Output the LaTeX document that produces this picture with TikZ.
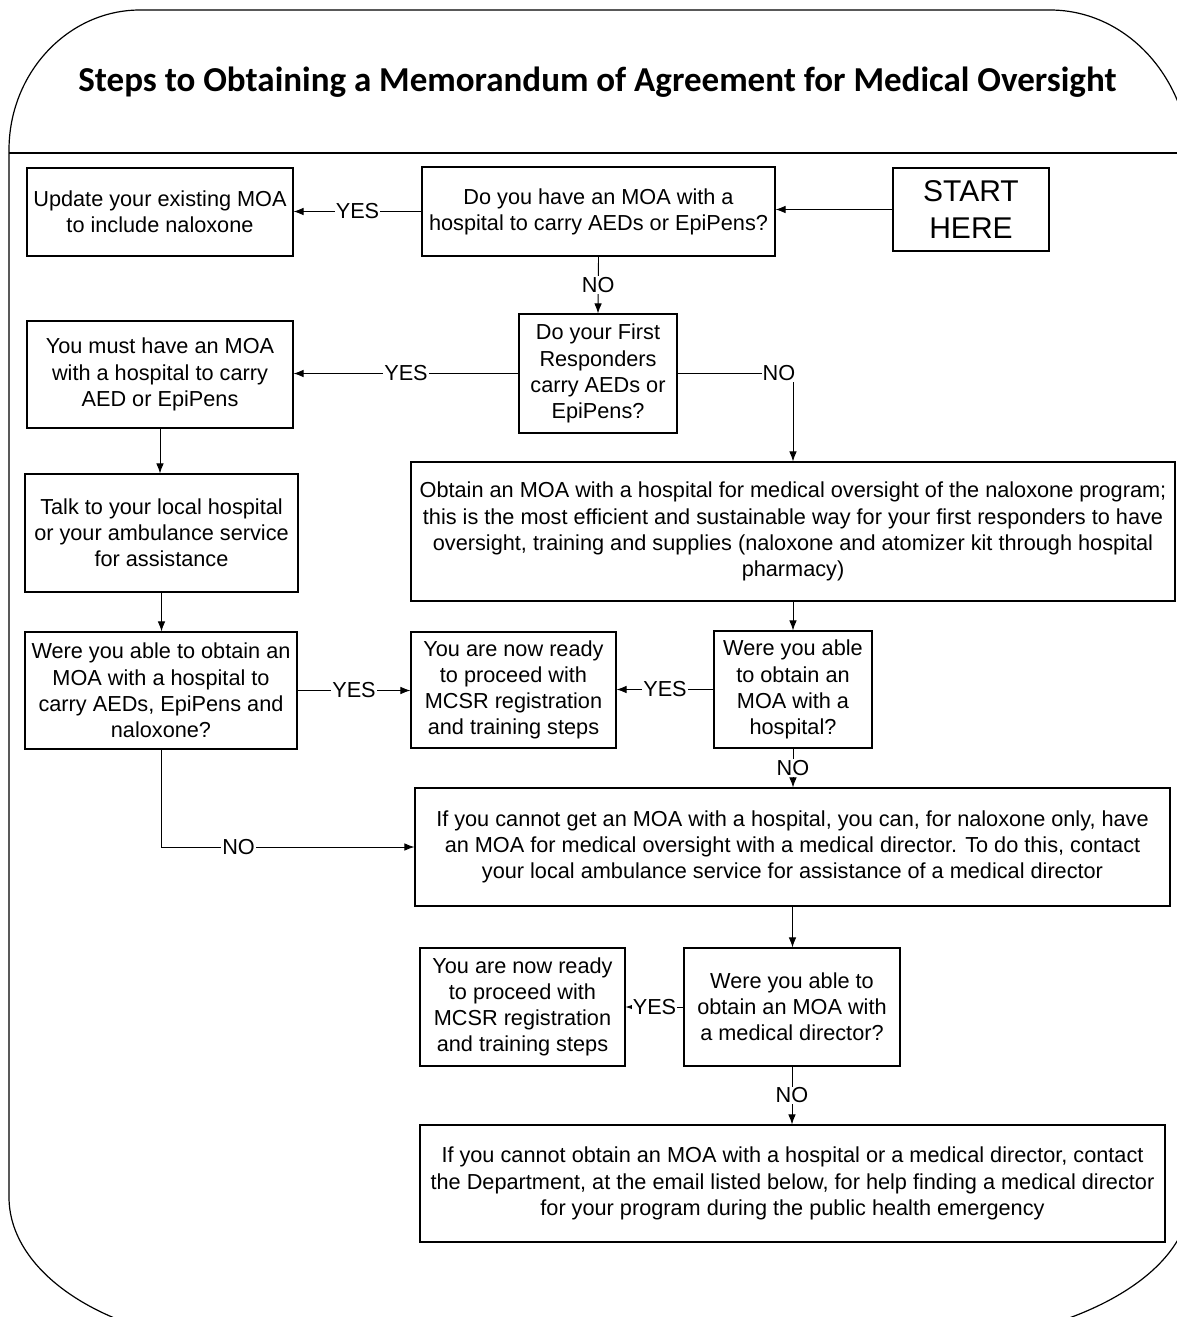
\documentclass[tikz,border=0pt]{standalone}
\usepackage{fontspec}
\setmainfont{Liberation Sans}
\newfontfamily\titlefont{Carlito}
\usetikzlibrary{arrows.meta}
\begin{document}
\begin{tikzpicture}[x=1pt,y=-1pt,
  box/.style={draw=black, line width=1.1pt, align=center, inner sep=2pt,
    font=\fontsize{21.7}{26.2}\selectfont},
  lab/.style={fill=white, inner sep=1pt, font=\fontsize{21.7}{24}\selectfont},
  arr/.style={line width=0.9pt, -{Latex[length=10pt,width=7.5pt]}},
  con/.style={line width=0.9pt}]
\useasboundingbox (0,0) rectangle (1177,1317);
% outer frame
\draw[line width=1.2pt] (140,10) -- (1050,10)
  .. controls (1127.3,10) and (1190,79.4) .. (1190,165) -- (1190,1197)
  .. controls (1190,1278.7) and (1062.4,1345) .. (905,1345) -- (258,1345)
  .. controls (119.9,1345) and (9,1278.7) .. (9,1197) -- (9,150)
  .. controls (9,72.7) and (68.2,10) .. (140,10) -- cycle;
\draw[line width=1.5pt] (9,153) -- (1190,153);
\node[font=\titlefont\bfseries\fontsize{35}{38}\selectfont] (title) at (597.5,82)
  {Steps to Obtaining a Memorandum of Agreement for Medical Oversight};
% boxes
\node[box, minimum width=266pt, minimum height=88pt] (upd) at (160,212)
  {Update your existing MOA\\to include naloxone};
\node[box, minimum width=353pt, minimum height=89pt] (q1) at (598.5,211.5)
  {Do you have an MOA with a\\hospital to carry AEDs or EpiPens?};
\node[box, minimum width=156pt, minimum height=83pt,
  font=\fontsize{30}{37}\selectfont] (start) at (971,209.5) {START\\HERE};
\node[box, minimum width=158pt, minimum height=119pt] (q2) at (598,373.5)
  {Do your First\\Responders\\carry AEDs or\\EpiPens?};
\node[box, minimum width=266pt, minimum height=107pt] (must) at (160,374.5)
  {You must have an MOA\\with a hospital to carry\\AED or EpiPens};
\node[box, minimum width=273pt, minimum height=118pt] (talk) at (161.5,533)
  {Talk to your local hospital\\or your ambulance service\\for assistance};
\node[box, minimum width=764pt, minimum height=139pt] (obtain) at (793,531.5)
  {Obtain an MOA with a hospital for medical oversight of the naloxone program;\\
   this is the most efficient and sustainable way for your first responders to have\\
   oversight, training and supplies (naloxone and atomizer kit through hospital\\
   pharmacy)};
\node[box, minimum width=272pt, minimum height=117pt] (were1) at (161,690.5)
  {Were you able to obtain an\\MOA with a hospital to\\carry AEDs, EpiPens and\\naloxone?};
\node[box, minimum width=205pt, minimum height=116pt] (ready1) at (513.5,690)
  {You are now ready\\to proceed with\\MCSR registration\\and training steps};
\node[box, minimum width=158pt, minimum height=117pt] (were2) at (793,689.5)
  {Were you able\\to obtain an\\MOA with a\\hospital?};
\node[box, minimum width=755pt, minimum height=118pt] (cannot) at (792.5,847)
  {If you cannot get an MOA with a hospital, you can, for naloxone only, have\\
   an MOA for medical oversight with a medical director. To do this, contact\\
   your local ambulance service for assistance of a medical director};
\node[box, minimum width=205pt, minimum height=118pt] (ready2) at (522.5,1007)
  {You are now ready\\to proceed with\\MCSR registration\\and training steps};
\node[box, minimum width=216pt, minimum height=118pt] (were3) at (792,1007)
  {Were you able to\\obtain an MOA with\\a medical director?};
\node[box, minimum width=745pt, minimum height=117pt] (final) at (792.5,1183.5)
  {If you cannot obtain an MOA with a hospital or a medical director, contact\\
   the Department, at the email listed below, for help finding a medical director\\
   for your program during the public health emergency};
% connectors
\draw[arr] (start.west) -- (start.west -| q1.east);
\draw[arr] (q1.west) -- node[lab]{YES} (q1.west -| upd.east);
\draw[arr] (q1.south) -- node[lab]{NO} (q2.north);
\draw[arr] (q2.west) -- node[lab]{YES} (q2.west -| must.east);
\draw[arr] (q2.east) -| node[lab, pos=0.5, xshift=-14pt]{NO} (obtain.north);
\draw[arr] (must.south) -- (must.south |- talk.north);
\draw[arr] (talk.south) -- (talk.south |- were1.north);
\draw[arr] (were1.east) -- node[lab]{YES} (were1.east -| ready1.west);
\draw[arr] (were2.west) -- node[lab]{YES} (were2.west -| ready1.east);
\draw[arr] (obtain.south) -- (obtain.south |- were2.north);
\draw[arr] (were2.south) -- node[lab]{NO} (were2.south |- cannot.north);
\draw[arr] (were1.south) |- node[lab, pos=0.653]{NO} (cannot.west);
\draw[arr] (cannot.south) -- (cannot.south |- were3.north);
\draw[arr] (were3.west) -- node[lab]{YES} (were3.west -| ready2.east);
\draw[arr] (were3.south) -- node[lab]{NO} (were3.south |- final.north);
\end{tikzpicture}
\end{document}
